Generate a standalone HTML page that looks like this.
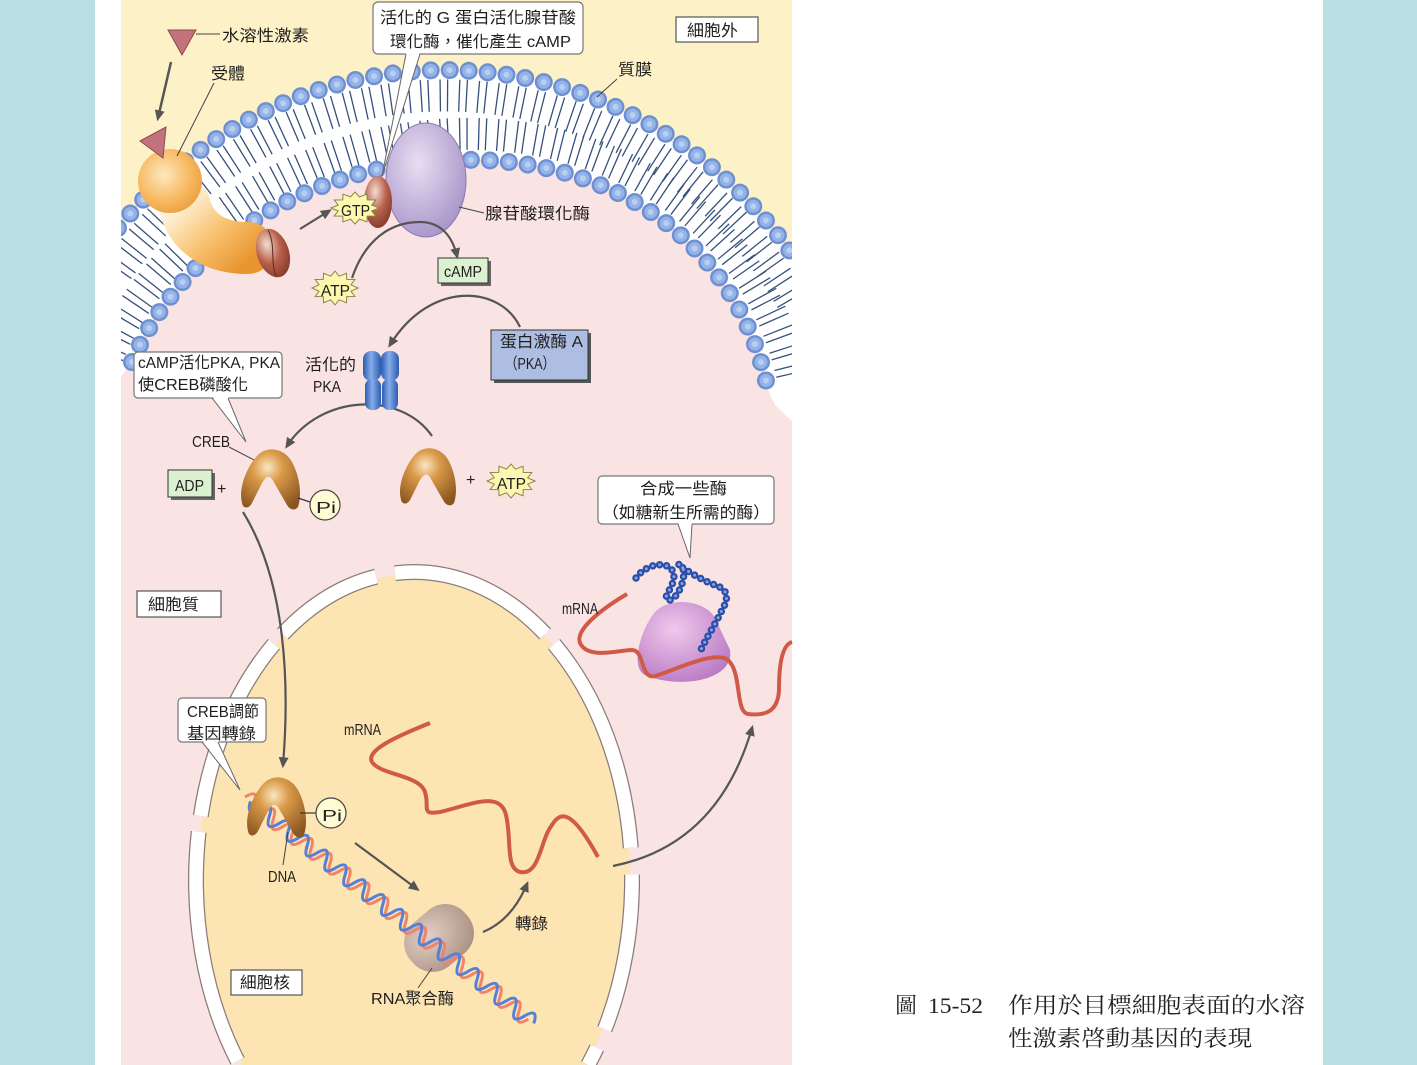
<!DOCTYPE html>
<html><head><meta charset="utf-8"><style>
html,body{margin:0;padding:0;background:#b9dfe3;width:1417px;height:1065px;overflow:hidden;}
svg{display:block;}
.t{font-family:"Liberation Sans Narrow","Liberation Sans","Noto Sans CJK TC",sans-serif;font-size:16px;fill:#1e1e1e;}
.c{font-family:"Liberation Serif","Noto Serif CJK SC",serif;font-size:22px;fill:#222;}
</style></head><body>
<svg width="1417" height="1065" viewBox="0 0 1417 1065" xmlns="http://www.w3.org/2000/svg">
<defs>
<clipPath id="ill"><rect x="121" y="0" width="671" height="1065"/></clipPath>
<marker id="ah" viewBox="0 0 10 10" refX="7" refY="5" markerWidth="11" markerHeight="11" markerUnits="userSpaceOnUse" orient="auto"><path d="M0,0.5 L10,5 L0,9.5 Z" fill="#555"/></marker>
<radialGradient id="creb" cx="0.45" cy="0.3" r="0.75"><stop offset="0" stop-color="#fbe6c2"/><stop offset="0.35" stop-color="#d99a48"/><stop offset="1" stop-color="#8a5520"/></radialGradient>
<radialGradient id="rec1" cx="0.4" cy="0.4" r="0.7"><stop offset="0" stop-color="#fde8c0"/><stop offset="0.6" stop-color="#f7b860"/><stop offset="1" stop-color="#ea9a3a"/></radialGradient>
<linearGradient id="rec2" gradientUnits="userSpaceOnUse" x1="185" y1="200" x2="245" y2="265"><stop offset="0" stop-color="#fdf2d8"/><stop offset="0.5" stop-color="#f9c270"/><stop offset="1" stop-color="#e8952f"/></linearGradient>
<radialGradient id="brown" cx="0.4" cy="0.3" r="0.8"><stop offset="0" stop-color="#f3dcd0"/><stop offset="0.5" stop-color="#b8604c"/><stop offset="1" stop-color="#7a3526"/></radialGradient>
<radialGradient id="lav" cx="0.4" cy="0.35" r="0.7"><stop offset="0" stop-color="#e8def2"/><stop offset="1" stop-color="#a693c8"/></radialGradient>
<linearGradient id="pka" x1="0" y1="0" x2="1" y2="0"><stop offset="0" stop-color="#2d5caf"/><stop offset="0.45" stop-color="#86acea"/><stop offset="1" stop-color="#2d5caf"/></linearGradient>
<radialGradient id="ribo" cx="0.4" cy="0.35" r="0.8"><stop offset="0" stop-color="#f0c8ec"/><stop offset="1" stop-color="#b270bf"/></radialGradient>
<radialGradient id="pol" cx="0.4" cy="0.35" r="0.8"><stop offset="0" stop-color="#e2d0c4"/><stop offset="1" stop-color="#a58a7c"/></radialGradient>
<polygon id="star" points="1,0 0.695,0.186 0.866,0.5 0.509,0.509 0.5,0.866 0.186,0.695 0,1 -0.186,0.695 -0.5,0.866 -0.509,0.509 -0.866,0.5 -0.695,0.186 -1,0 -0.695,-0.186 -0.866,-0.5 -0.509,-0.509 -0.5,-0.866 -0.186,-0.695 0,-1 0.186,-0.695 0.5,-0.866 0.509,-0.509 0.866,-0.5 0.695,-0.186" fill="#fdf7b0" stroke="#8c8646" stroke-width="1" vector-effect="non-scaling-stroke"/>
<path id="crebp" d="M2,56 C -2,40 8,18 18,8 C 28,-2 45,2 52,15 C 60,30 62,48 58,60 C 55,64 50,63 47,58 L 32,32 C 28,28 26,30 22,36 L 12,56 C 9,62 3,62 2,56 Z" fill="url(#creb)"/>
</defs>

<rect x="95" y="0" width="1228" height="1065" fill="#ffffff"/>

<g clip-path="url(#ill)">
<rect x="121" y="0" width="671" height="1065" fill="#fdf1c8"/>
<path d="M118,228 A430,450 0 0 1 796,260 L796,1065 L118,1065 Z" fill="#fae3e3"/>
<!-- membrane band -->
<path d="M118,228 A430,450 0 0 1 796,260 L796,425 L775,405 L768,390 C 740,250 620,155 455,160 C 290,165 175,260 132,362 L118,380 Z" fill="#ffffff"/>
<path d="M118,270 A405,425 0 0 1 796,308" fill="none" stroke="#34507c" stroke-width="32" stroke-dasharray="1.3 6 1.3 10.4"/>
<path d="M108,355 C 153,248 282,141 455,134 C 627,129 764,231 794,384" fill="none" stroke="#34507c" stroke-width="32" stroke-dasharray="1.3 6 1.3 10.4"/>
<g fill="none" stroke-linecap="round">
<path d="M118,228 A430,450 0 0 1 796,260" stroke="#6f90d0" stroke-width="18" stroke-dasharray="0 19"/>
<path d="M118,228 A430,450 0 0 1 796,260" stroke="#94b3e8" stroke-width="13" stroke-dasharray="0 19"/>
<path d="M118,228 A430,450 0 0 1 796,260" stroke="#b8cff2" stroke-width="6" stroke-dasharray="0 19"/>
<path d="M132,362 C 175,260 290,165 455,160 C 620,155 740,250 768,390" stroke="#6f90d0" stroke-width="18" stroke-dasharray="0 19"/>
<path d="M132,362 C 175,260 290,165 455,160 C 620,155 740,250 768,390" stroke="#94b3e8" stroke-width="13" stroke-dasharray="0 19"/>
<path d="M132,362 C 175,260 290,165 455,160 C 620,155 740,250 768,390" stroke="#b8cff2" stroke-width="6" stroke-dasharray="0 19"/>
</g>

<!-- nucleus -->
<path d="M242,1065 A216,306 0 1 1 586,1065 Z" fill="#fde4b3"/>
<g fill="none" stroke="#8a7c78" stroke-width="16">
<path d="M198.7,831.8 A218,308 0 0 0 237.6,1061"/>
<path d="M200.8,816 A218,308 0 0 1 273.9,644.1"/>
<path d="M282.8,634 A218,308 0 0 1 376.2,576.7"/>
<path d="M395,573.2 A218,308 0 0 1 545.2,634"/>
<path d="M554.1,644.1 A218,308 0 0 1 630.8,847.8"/>
<path d="M632,874.6 A218,308 0 0 1 604.7,1029.3"/>
<path d="M596.8,1047.7 A218,308 0 0 1 588.1,1065"/>
</g>
<g fill="none" stroke="#ffffff" stroke-width="13.5">
<path d="M198.7,831.8 A218,308 0 0 0 237.6,1061"/>
<path d="M200.8,816 A218,308 0 0 1 273.9,644.1"/>
<path d="M282.8,634 A218,308 0 0 1 376.2,576.7"/>
<path d="M395,573.2 A218,308 0 0 1 545.2,634"/>
<path d="M554.1,644.1 A218,308 0 0 1 630.8,847.8"/>
<path d="M632,874.6 A218,308 0 0 1 604.7,1029.3"/>
<path d="M596.8,1047.7 A218,308 0 0 1 588.1,1065"/>
</g>
</g>

<!-- receptor -->
<path d="M184,204 C 192,236 218,248 248,248" fill="none" stroke="url(#rec2)" stroke-width="52" stroke-linecap="round"/>
<circle cx="170" cy="181" r="32" fill="url(#rec1)"/>
<polygon points="140,141 166,127 163,158" fill="#c3737c" stroke="#8a4a50" stroke-width="1"/>
<ellipse cx="273" cy="253" rx="16" ry="25" transform="rotate(-18 273 253)" fill="url(#brown)"/>
<path d="M268,230 C 276,245 270,262 276,276" fill="none" stroke="#5a2a20" stroke-width="1"/>
<!-- hormone -->
<polygon points="168,30 196,30 182,55" fill="#c3737c" stroke="#8a4a50" stroke-width="1"/>
<line x1="196" y1="34" x2="220" y2="34" stroke="#444" stroke-width="1"/>
<line x1="171" y1="62" x2="158" y2="118" stroke="#555" stroke-width="2.5" marker-end="url(#ah)"/>
<line x1="214" y1="83" x2="177" y2="156" stroke="#444" stroke-width="1"/>

<!-- adenylyl cyclase + G alpha -->
<ellipse cx="426" cy="180" rx="40" ry="57" fill="url(#lav)" stroke="#8d7bb0" stroke-width="1"/>
<ellipse cx="378" cy="202" rx="14" ry="26" fill="url(#brown)"/>
<line x1="459" y1="207" x2="484" y2="213" stroke="#444" stroke-width="1"/>

<!-- top callout -->
<rect x="373" y="2" width="210" height="52" rx="5" fill="#fff" stroke="#777" stroke-width="1.2"/>
<polygon points="406,52 420,52 382,176" fill="#fff"/>
<polyline points="406,54 382,176 420,54" fill="none" stroke="#666" stroke-width="1"/>
<text class="t" x="380" y="23" textLength="196" lengthAdjust="spacingAndGlyphs">活化的 G 蛋白活化腺苷酸</text>
<text class="t" x="390" y="47" textLength="181" lengthAdjust="spacingAndGlyphs">環化酶，催化產生 cAMP</text>

<rect x="676" y="17" width="82" height="25" fill="#fff" stroke="#555" stroke-width="1.2"/>
<text class="t" x="687" y="36" textLength="51" lengthAdjust="spacingAndGlyphs">細胞外</text>
<text class="t" x="618" y="75" textLength="34" lengthAdjust="spacingAndGlyphs">質膜</text>
<line x1="617" y1="79" x2="597" y2="97" stroke="#444" stroke-width="1"/>
<text class="t" x="222" y="41" textLength="87" lengthAdjust="spacingAndGlyphs">水溶性激素</text>
<text class="t" x="211" y="79" textLength="34" lengthAdjust="spacingAndGlyphs">受體</text>
<text class="t" x="485" y="219" textLength="105" lengthAdjust="spacingAndGlyphs">腺苷酸環化酶</text>

<!-- GTP / ATP stars -->
<use href="#star" transform="translate(355,208) scale(24,16)"/>
<text class="t" x="341" y="216" font-size="15" textLength="29" lengthAdjust="spacingAndGlyphs">GTP</text>
<use href="#star" transform="translate(335,288) scale(23,17)"/>
<text class="t" x="321" y="296" font-size="15" textLength="29" lengthAdjust="spacingAndGlyphs">ATP</text>
<use href="#star" transform="translate(511,481) scale(24,17)"/>
<text class="t" x="497" y="489" font-size="15" textLength="29" lengthAdjust="spacingAndGlyphs">ATP</text>

<!-- cAMP box -->
<rect x="441" y="261" width="50" height="25" fill="#666"/>
<rect x="438" y="258" width="50" height="25" fill="#dcf1cf" stroke="#333" stroke-width="1"/>
<text class="t" x="444" y="277" textLength="38" lengthAdjust="spacingAndGlyphs">cAMP</text>

<!-- PKA box -->
<rect x="494" y="333" width="97" height="50" fill="#555"/>
<rect x="491" y="330" width="97" height="50" fill="#aebde2" stroke="#333" stroke-width="1"/>
<text class="t" x="500" y="347" textLength="83" lengthAdjust="spacingAndGlyphs">蛋白激酶 A</text>
<text class="t" x="505" y="369" textLength="50" lengthAdjust="spacingAndGlyphs">（PKA）</text>

<!-- arrows -->
<g fill="none" stroke="#555" stroke-width="2.2">
<line x1="300" y1="229" x2="329" y2="211" marker-end="url(#ah)"/>
<path d="M352,278 C 365,240 390,222 420,222 C 440,222 452,235 457,256" marker-end="url(#ah)"/>
<path d="M520,327 C 500,285 430,280 390,345" marker-end="url(#ah)"/>
<path d="M432,436 C 400,390 320,395 287,446" marker-end="url(#ah)"/>
<path d="M243,512 C 285,580 290,680 283,765" marker-end="url(#ah)"/>
<line x1="355" y1="843" x2="417" y2="889" marker-end="url(#ah)"/>
<path d="M483,932 Q 512,920 527,884" marker-end="url(#ah)"/>
<path d="M613,866 Q 718,845 752,728" marker-end="url(#ah)"/>
</g>

<!-- activated PKA -->
<rect x="363" y="351" width="18" height="30" rx="8" fill="url(#pka)"/>
<rect x="381" y="351" width="18" height="30" rx="8" fill="url(#pka)"/>
<rect x="365" y="379" width="16" height="31" rx="7" fill="url(#pka)"/>
<rect x="382" y="379" width="16" height="31" rx="7" fill="url(#pka)"/>
<text class="t" x="305" y="370" textLength="51" lengthAdjust="spacingAndGlyphs">活化的</text>
<text class="t" x="313" y="392" textLength="28" lengthAdjust="spacingAndGlyphs">PKA</text>

<!-- cAMP callout -->
<rect x="134" y="352" width="148" height="46" rx="4" fill="#fff" stroke="#777" stroke-width="1.2"/>
<polygon points="212,396 228,396 246,442" fill="#fff"/>
<polyline points="212,398 246,442 228,398" fill="none" stroke="#666" stroke-width="1"/>
<text class="t" x="138" y="368" textLength="142" lengthAdjust="spacingAndGlyphs">cAMP活化PKA, PKA</text>
<text class="t" x="138" y="390" textLength="110" lengthAdjust="spacingAndGlyphs">使CREB磷酸化</text>

<!-- CREB -->
<text class="t" x="192" y="447" textLength="38" lengthAdjust="spacingAndGlyphs">CREB</text>
<line x1="229" y1="447" x2="258" y2="462" stroke="#444" stroke-width="1"/>
<use href="#crebp" transform="translate(240,447)"/>
<use href="#crebp" transform="translate(399,446) scale(0.95,0.95)"/>
<rect x="171" y="473" width="44" height="27" fill="#666"/>
<rect x="168" y="470" width="44" height="27" fill="#dcf1cf" stroke="#333" stroke-width="1"/>
<text class="t" x="175" y="491" textLength="29" lengthAdjust="spacingAndGlyphs">ADP</text>
<text class="t" x="217" y="494" font-size="20">+</text>
<text class="t" x="466" y="485" font-size="20">+</text>
<line x1="298" y1="498" x2="310" y2="502" stroke="#333" stroke-width="1.2"/>
<circle cx="325" cy="505" r="15" fill="#fffbd2" stroke="#444" stroke-width="1.2"/>
<text class="t" x="316" y="513" font-size="18" textLength="20" lengthAdjust="spacingAndGlyphs">Pi</text>

<!-- synthesis callout -->
<rect x="598" y="476" width="176" height="48" rx="4" fill="#fff" stroke="#777" stroke-width="1.2"/>
<polygon points="678,522 692,522 690,558" fill="#fff"/>
<polyline points="678,524 690,558 692,524" fill="none" stroke="#666" stroke-width="1"/>
<text class="t" x="640" y="494" textLength="87" lengthAdjust="spacingAndGlyphs">合成一些酶</text>
<text class="t" x="602" y="518" textLength="168" lengthAdjust="spacingAndGlyphs">（如糖新生所需的酶）</text>

<rect x="137" y="591" width="84" height="26" fill="#fff" stroke="#555" stroke-width="1.2"/>
<text class="t" x="148" y="610" textLength="51" lengthAdjust="spacingAndGlyphs">細胞質</text>

<!-- ribosome, mRNA, protein -->
<path d="M627,594 C 600,610 575,630 580,643 C 588,660 620,650 632,650" fill="none" stroke="#d05a48" stroke-width="4"/>
<path d="M655,612 C 670,596 705,600 715,618 L 730,650 C 735,680 680,690 645,675 C 630,668 640,630 655,612 Z" fill="url(#ribo)"/>
<path d="M632,650 C 645,650 640,680 655,676 C 675,670 715,650 728,660 C 742,672 735,712 748,714 C 765,716 778,712 779,690 C 779,665 782,645 792,642" fill="none" stroke="#d05a48" stroke-width="4"/>
<path d="M636,578 C 645,565 665,560 672,570 C 680,582 660,598 668,600 C 678,602 690,570 680,565 C 670,560 700,580 715,585 C 730,590 728,600 722,610 C 715,625 705,640 700,652" fill="none" stroke="#2c4ea8" stroke-width="7.5" stroke-linecap="round" stroke-dasharray="0 7"/>
<path d="M636,578 C 645,565 665,560 672,570 C 680,582 660,598 668,600 C 678,602 690,570 680,565 C 670,560 700,580 715,585 C 730,590 728,600 722,610 C 715,625 705,640 700,652" fill="none" stroke="#86a4e6" stroke-width="3" stroke-linecap="round" stroke-dasharray="0 7"/>
<text class="t" x="562" y="614" font-size="15" textLength="36" lengthAdjust="spacingAndGlyphs">mRNA</text>

<!-- nucleus contents -->
<path d="M430,723 C 400,735 365,750 372,762 C 380,775 420,775 425,792 C 430,808 420,815 440,812 C 470,805 500,790 506,815 C 512,840 505,868 520,872 C 540,876 540,840 552,825 C 562,808 575,815 598,857" fill="none" stroke="#d05a48" stroke-width="4"/>
<text class="t" x="344" y="735" font-size="15" textLength="37" lengthAdjust="spacingAndGlyphs">mRNA</text>

<rect x="403" y="910" width="72" height="56" rx="26" transform="rotate(-40 439 938)" fill="url(#pol)"/>
<g transform="translate(245,797) rotate(38.1)" fill="none" stroke-width="3">
<path stroke="#f0836c" d="M0,0 q6,-16 12,0 t12,0 t12,0 t12,0 t12,0 t12,0 t12,0 t12,0 t12,0 t12,0 t12,0 t12,0 t12,0 t12,0 t12,0 t12,0 t12,0 t12,0 t12,0 t12,0 t12,0 t12,0 t12,0 t12,0 t12,0 t12,0 t12,0 t12,0 t12,0 t12,0"/>
<path stroke="#5580d6" d="M7,0 q6,16 12,0 t12,0 t12,0 t12,0 t12,0 t12,0 t12,0 t12,0 t12,0 t12,0 t12,0 t12,0 t12,0 t12,0 t12,0 t12,0 t12,0 t12,0 t12,0 t12,0 t12,0 t12,0 t12,0 t12,0 t12,0 t12,0 t12,0 t12,0 t12,0 t12,0"/>
</g>
<use href="#crebp" transform="translate(246,775)"/>
<line x1="300" y1="813" x2="316" y2="813" stroke="#333" stroke-width="1.2"/>
<circle cx="331" cy="813" r="15" fill="#fffbd2" stroke="#444" stroke-width="1.2"/>
<text class="t" x="322" y="821" font-size="18" textLength="20" lengthAdjust="spacingAndGlyphs">Pi</text>
<line x1="283" y1="865" x2="288" y2="832" stroke="#444" stroke-width="1"/>
<text class="t" x="268" y="882" textLength="28" lengthAdjust="spacingAndGlyphs">DNA</text>
<text class="t" x="515" y="929" textLength="33" lengthAdjust="spacingAndGlyphs">轉錄</text>
<line x1="418" y1="988" x2="432" y2="968" stroke="#444" stroke-width="1"/>
<text class="t" x="371" y="1004" textLength="83" lengthAdjust="spacingAndGlyphs">RNA聚合酶</text>

<rect x="231" y="970" width="71" height="25" fill="#fff" stroke="#555" stroke-width="1.2"/>
<text class="t" x="240" y="988" textLength="50" lengthAdjust="spacingAndGlyphs">細胞核</text>

<rect x="178" y="698" width="88" height="44" rx="4" fill="#fff" stroke="#777" stroke-width="1.2"/>
<polygon points="202,740 218,740 240,790" fill="#fff"/>
<polyline points="202,742 240,790 218,742" fill="none" stroke="#666" stroke-width="1"/>
<text class="t" x="187" y="717" textLength="72" lengthAdjust="spacingAndGlyphs">CREB調節</text>
<text class="t" x="187" y="739" textLength="69" lengthAdjust="spacingAndGlyphs">基因轉錄</text>

<!-- caption -->
<text class="c" x="895" y="1013">圖</text>
<text class="c" x="928" y="1013" textLength="55" lengthAdjust="spacingAndGlyphs">15-52</text>
<text class="c" x="1008" y="1013" textLength="297" lengthAdjust="spacingAndGlyphs">作用於目標細胞表面的水溶</text>
<text class="c" x="1008" y="1046" textLength="244" lengthAdjust="spacingAndGlyphs">性激素啓動基因的表現</text>
</svg>
</body></html>
